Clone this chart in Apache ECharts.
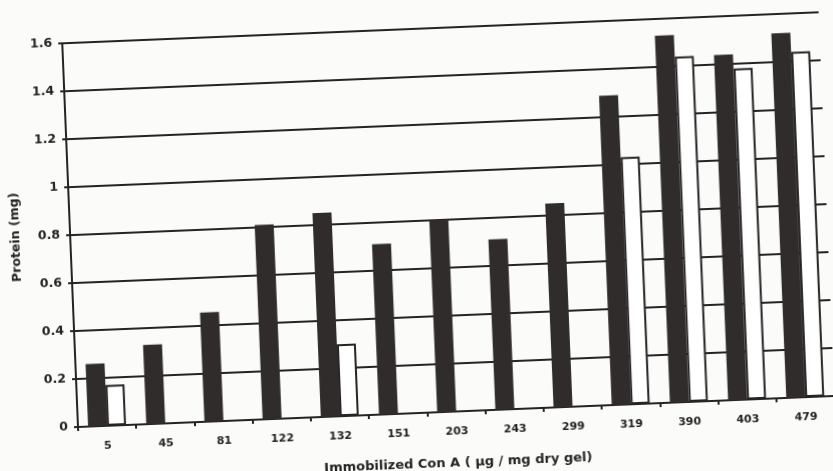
<!DOCTYPE html>
<html>
<head>
<meta charset="utf-8">
<script src="https://cdn.jsdelivr.net/npm/echarts@6/dist/echarts.min.js"></script>
<style>
  html, body { margin: 0; padding: 0; width: 833px; height: 471px; overflow: hidden; background: #fbfbfa; }
  #chart { position: absolute; left: 0; top: 0; width: 900px; height: 520px;
           transform-origin: 78px 427px; transform: rotate(-2.35deg); }
</style>
</head>
<body>
<div id="chart"></div>
<script>
const categories = ['5', '45', '81', '122', '132', '151', '203', '243', '299', '319', '390', '403', '479'];
const darkValues = [0.26, 0.33, 0.455, 0.81, 0.85, 0.71, 0.80, 0.71, 0.85, 1.29, 1.53, 1.44, 1.52];
const lightValues = [0.17, null, null, null, 0.30, null, null, null, null, 1.03, 1.44, 1.38, 1.44];
const yMin = 0, yMax = 1.6, yStep = 0.2;
const xTitle = 'Immobilized Con A ( µg / mg dry gel)';
const yTitle = 'Protein (mg)';

const ink = '#262323';
const font = 'DejaVu Sans';
const chart = echarts.init(document.getElementById('chart'), null, { renderer: 'canvas' });
chart.setOption({
  backgroundColor: '#fbfbfa',
  animation: false,
  grid: { left: 78, top: 43, width: 757, height: 384 },
  xAxis: {
    type: 'category',
    data: categories,
    name: xTitle,
    nameLocation: 'middle',
    nameGap: 45,
    nameTextStyle: { fontFamily: font, fontWeight: 'bold', fontSize: 13, color: ink },
    axisLine: { lineStyle: { color: ink, width: 2 } },
    axisTick: { show: true, length: 4, lineStyle: { color: ink, width: 2 } },
    axisLabel: { margin: 15, fontFamily: font, fontWeight: 'bold', fontSize: 11, color: ink },
    splitLine: { show: false }
  },
  yAxis: {
    type: 'value',
    min: yMin, max: yMax, interval: yStep,
    name: yTitle,
    nameLocation: 'middle',
    nameGap: 48,
    nameTextStyle: { fontFamily: font, fontWeight: 'bold', fontSize: 12.5, color: ink },
    axisLine: { show: true, lineStyle: { color: ink, width: 2 } },
    axisTick: { show: true, length: 4, lineStyle: { color: ink, width: 2 } },
    axisLabel: { margin: 10, fontFamily: font, fontWeight: 'bold', fontSize: 12.5, color: ink },
    splitLine: { show: true, lineStyle: { color: ink, width: 2 } }
  },
  series: [
    {
      type: 'bar',
      data: darkValues,
      barWidth: 19,
      barGap: '0%',
      itemStyle: { color: '#302c2c' }
    },
    {
      type: 'bar',
      data: lightValues,
      barWidth: 19,
      itemStyle: { color: '#ffffff', borderColor: ink, borderWidth: 2 }
    }
  ]
});
</script>
</body>
</html>
